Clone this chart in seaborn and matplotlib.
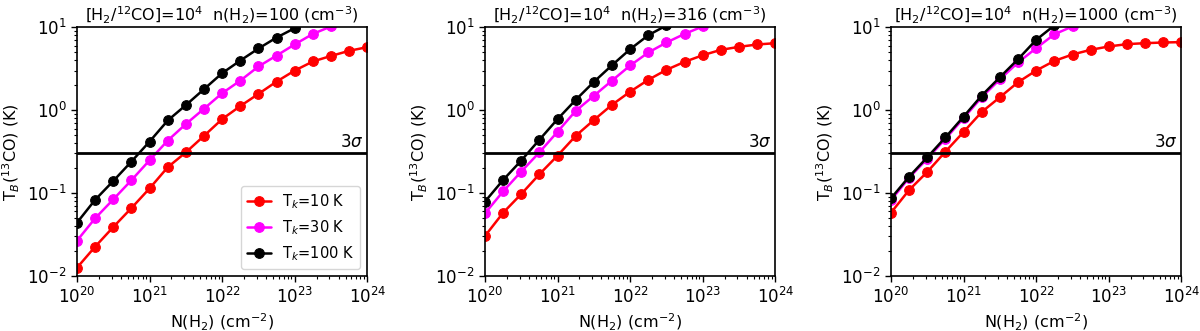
import numpy as np
import pandas as pd
import matplotlib
matplotlib.use("Agg")
import matplotlib.pyplot as plt
import matplotlib.ticker as mticker
import seaborn as sns

# column density grid, 0.25 dex steps from 1e20 to 1e24
log_nh2 = [20.0, 20.25, 20.5, 20.75, 21.0, 21.25, 21.5, 21.75, 22.0,
           22.25, 22.5, 22.75, 23.0, 23.25, 23.5, 23.75, 24.0]

densities = ["100", "316", "1000"]
tk_labels = ["T$_k$=10 K", "T$_k$=30 K", "T$_k$=100 K"]
colors = ["red", "magenta", "black"]

# n(H2)=100
tb_n100_t10 = [0.0126, 0.0226, 0.039, 0.066, 0.114, 0.205, 0.31, 0.49, 0.78,
               1.12, 1.57, 2.21, 3.0, 3.86, 4.5, 5.19, 5.74]
tb_n100_t30 = [0.0267, 0.0497, 0.084, 0.143, 0.249, 0.43, 0.68, 1.04, 1.6,
               2.27, 3.36, 4.55, 6.2, 8.3, 10.2, 12.0, 14.0]
tb_n100_t100 = [0.044, 0.083, 0.14, 0.24, 0.418, 0.75, 1.15, 1.79, 2.79,
                3.96, 5.53, 7.5, 9.73, 12.0, 15.0, 17.0, 19.0]

# n(H2)=316
tb_n316_t10 = [0.0304, 0.058, 0.0975, 0.169, 0.283, 0.49, 0.76, 1.16, 1.67,
               2.32, 3.06, 3.82, 4.59, 5.33, 5.79, 6.18, 6.41]
tb_n316_t30 = [0.057, 0.105, 0.182, 0.31, 0.55, 0.98, 1.49, 2.27, 3.45,
               4.95, 6.53, 8.3, 10.2, 12.0, 14.0, 15.0, 16.0]
tb_n316_t100 = [0.079, 0.144, 0.247, 0.44, 0.78, 1.33, 2.19, 3.48, 5.43,
                8.0, 10.5, 13.0, 15.0, 17.0, 18.0, 19.0, 20.0]

# n(H2)=1000
tb_n1000_t10 = [0.058, 0.109, 0.18, 0.316, 0.546, 0.95, 1.43, 2.17, 3.0,
                3.92, 4.68, 5.33, 5.85, 6.24, 6.41, 6.53, 6.6]
tb_n1000_t30 = [0.082, 0.153, 0.26, 0.45, 0.80, 1.43, 2.35, 3.75, 5.58,
                8.2, 10.2, 12.0, 13.0, 14.0, 14.5, 15.0, 15.5]
tb_n1000_t100 = [0.0865, 0.158, 0.27, 0.47, 0.835, 1.5, 2.49, 4.11, 7.03,
                 10.5, 15.0, 18.0, 20.0, 21.0, 22.0, 22.5, 23.0]

panels = [
    [tb_n100_t10, tb_n100_t30, tb_n100_t100],
    [tb_n316_t10, tb_n316_t30, tb_n316_t100],
    [tb_n1000_t10, tb_n1000_t30, tb_n1000_t100],
]

three_sigma = 0.3

sns.set_style("ticks")
plt.rcParams["font.family"] = ["DejaVu Sans"]
plt.rcParams["mathtext.fontset"] = "dejavusans"
plt.rcParams["text.color"] = "black"
plt.rcParams["axes.labelcolor"] = "black"
plt.rcParams["xtick.color"] = "black"
plt.rcParams["ytick.color"] = "black"

fig = plt.figure(figsize=(12, 3.31), dpi=100)
lefts = [77 / 1200, 485 / 1200, 891 / 1200]
nh2 = 10.0 ** np.array(log_nh2)

for i, left in enumerate(lefts):
    ax = fig.add_axes([left, 0.166, 0.242, 0.752])
    for j in range(3):
        df = pd.DataFrame({"N": nh2, "T": panels[i][j]})
        sns.lineplot(data=df, x="N", y="T", ax=ax, color=colors[j],
                     marker="o", markersize=7, markeredgecolor=colors[j],
                     linewidth=1.8, label=tk_labels[j], legend=False)
    ax.axhline(three_sigma, color="black", linewidth=2)
    ax.text(10 ** 23.95, three_sigma * 1.06, r"3$\sigma$", ha="right",
            va="bottom", fontsize=12)
    ax.set_xscale("log")
    ax.set_yscale("log")
    ax.set_xlim(1e20, 1e24)
    ax.set_ylim(1e-2, 1e1)
    ax.xaxis.set_major_locator(mticker.LogLocator(base=10, numticks=10))
    ax.yaxis.set_major_locator(mticker.LogLocator(base=10, numticks=10))
    ax.xaxis.set_minor_locator(mticker.LogLocator(base=10, subs=np.arange(2, 10), numticks=20))
    ax.yaxis.set_minor_locator(mticker.LogLocator(base=10, subs=np.arange(2, 10), numticks=20))
    ax.xaxis.set_minor_formatter(mticker.NullFormatter())
    ax.yaxis.set_minor_formatter(mticker.NullFormatter())
    ax.tick_params(which="major", labelsize=12, length=4, width=1)
    ax.tick_params(which="minor", length=2.5, width=0.8)
    ax.set_xlabel("N(H$_2$) (cm$^{-2}$)", fontsize=11.5)
    ax.set_ylabel("T$_B$($^{13}$CO) (K)", fontsize=11.5)
    ax.set_title("[H$_2$/$^{12}$CO]=10$^4$  n(H$_2$)=" + densities[i]
                 + " (cm$^{-3}$)", fontsize=11.5, pad=4)
    for s in ax.spines.values():
        s.set_linewidth(1.2)
        s.set_color("black")
    if i == 0:
        ax.legend(loc="lower right", fontsize=10.5, frameon=True,
                  handlelength=1.6)

fig.savefig("out.png", dpi=100)
